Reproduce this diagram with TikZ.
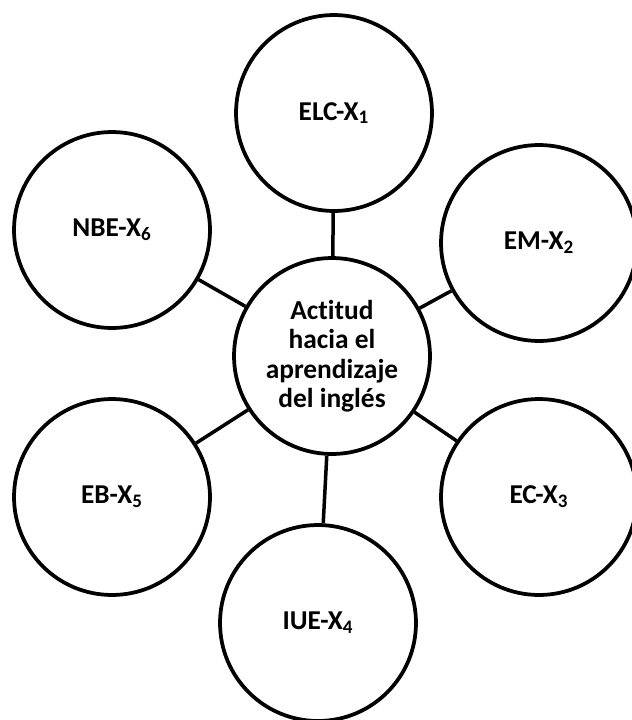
\documentclass[tikz,border=0pt]{standalone}
\usepackage{fontspec}
\setmainfont{Carlito}[Ligatures=CommonOff]
\newcommand{\sx}[1]{\textsubscript{#1}}

\begin{document}
\begin{tikzpicture}[x=0.02cm,y=-0.02cm,
  bubble/.style={circle,draw=black,line width=0.075cm,minimum size=3.92cm,inner sep=0pt,
    font=\fontsize{15.5}{17}\selectfont\bfseries},
  hub/.style={bubble,align=center,font=\fontsize{15.6}{16.8}\selectfont\bfseries},
  link/.style={line width=0.07cm}]
   \clip (0,0) rectangle (632,720);
   \node[hub] (act) at (332,356) {Actitud\\hacia el\\aprendizaje\\del inglés};
   \node[bubble] (elc) at (334,113) {ELC-X\sx{1}};
   \node[bubble] (em)  at (539,243) {EM-X\sx{2}};
   \node[bubble] (ec)  at (539,497) {EC-X\sx{3}};
   \node[bubble] (iue) at (318,623) {IUE-X\sx{4}};
   \node[bubble] (eb)  at (112,497) {EB-X\sx{5}};
   \node[bubble] (nbe) at (112,230) {NBE-X\sx{6}};
   \foreach \n in {elc,em,ec,iue,eb,nbe}
     \draw[link] (act) -- (\n);
\end{tikzpicture}
\end{document}
